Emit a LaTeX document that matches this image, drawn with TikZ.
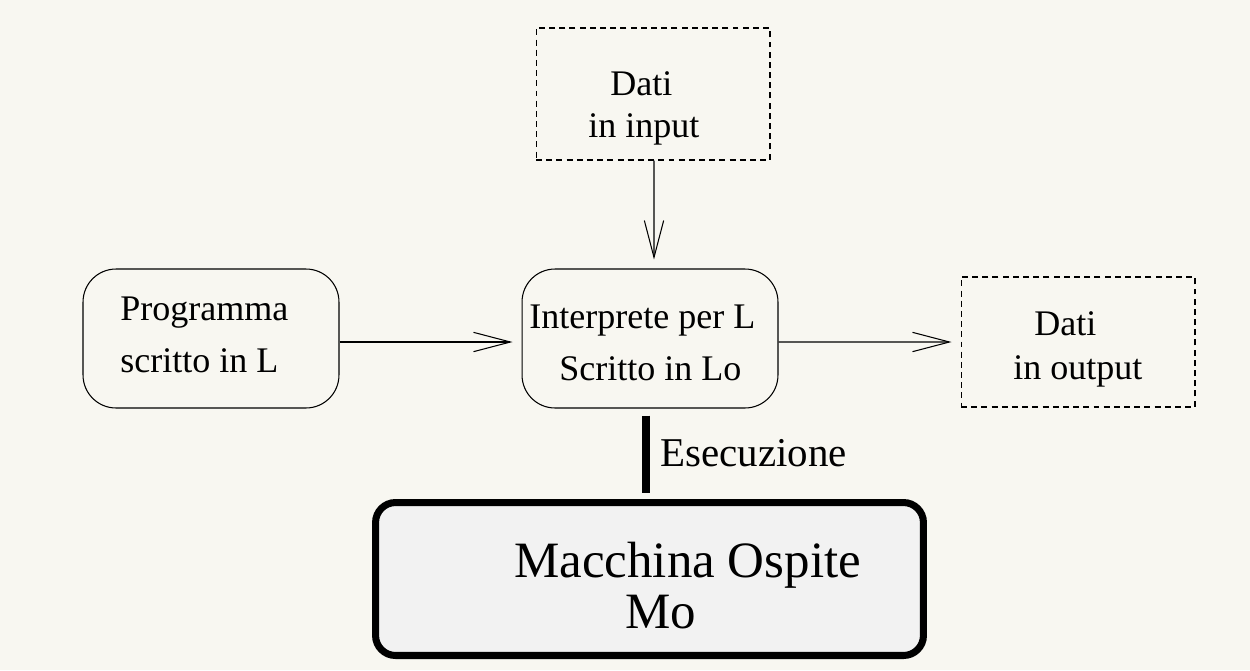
\documentclass[tikz,border=0pt]{standalone}
\usepackage{fontspec}
\setmainfont{Liberation Serif}
\usetikzlibrary{arrows.meta}
\definecolor{bgcol}{HTML}{F8F7F1}
\definecolor{machfill}{HTML}{F2F2F2}
\tikzset{
  box/.style={draw=black, line width=0.6pt, rounded corners=0.66cm, minimum width=5.12cm, minimum height=2.78cm, inner sep=0pt},
  dbox/.style={draw=black, line width=0.6pt, dash pattern=on 3.4pt off 2.4pt, minimum width=4.68cm, inner sep=0pt},
  machbox/.style={draw=black, fill=machfill, line width=4pt, rounded corners=0.4cm, minimum width=10.96cm, minimum height=3.06cm, inner sep=0pt},
  txt/.style={anchor=base west, inner sep=0pt, font=\fontsize{20.5}{24}\selectfont},
  arr/.style={line width=0.6pt, -{Straight Barb[length=21pt, width=11pt, line width=0.6pt]}},
  exec/.style={line width=4.5pt},
}
\begin{document}
\begin{tikzpicture}[x=0.02cm, y=-0.02cm]
\fill[bgcol] (0,0) rectangle (1250,670);
\useasboundingbox (0,0) rectangle (1250,670);

% boxes
\node[dbox, minimum height=2.64cm] (dinput) at (653,94) {};
\node[box] (prog) at (211,338.5) {};
\node[box] (interp) at (650,338.5) {};
\node[dbox, minimum height=2.6cm] (doutput) at (1078,342) {};
\node[machbox] (mach) at (649.5,579) {};

% texts
\node[txt] (t1) at (610,95) {Dati};
\node[txt] (t2) at (588,137) {in input};
\node[txt] (t3) at (120,320) {Programma};
\node[txt] (t4) at (120,372) {scritto in L};
\node[txt] (t5) at (529,328) {Interprete per L};
\node[txt] (t6) at (559,380) {Scritto in Lo};
\node[txt] (t7) at (1034,335) {Dati};
\node[txt] (t8) at (1013,379) {in output};
\node[txt, font=\fontsize{23.3}{28}\selectfont] (t9) at (660,466) {Esecuzione};
\node[txt, font=\fontsize{29}{34}\selectfont] (t10) at (514,577) {Macchina Ospite};
\node[txt, font=\fontsize{29}{34}\selectfont] (t11) at (625,628) {Mo};

% connectors
\draw[arr, shorten >=0.18cm] ([xshift=0.02cm]dinput.south) -- ([xshift=0.08cm]interp.north);
\draw[arr, shorten >=0.18cm] ([yshift=-0.07cm]prog.east) -- ([yshift=-0.07cm]interp.west);
\draw[arr, shorten >=0.18cm] ([yshift=-0.07cm]interp.east) -- (doutput.west);
\draw[exec, shorten <=0.14cm, shorten >=0.13cm] ([xshift=-0.08cm]interp.south) -- ([xshift=-0.08cm]interp.south |- mach.north);
\end{tikzpicture}
\end{document}
